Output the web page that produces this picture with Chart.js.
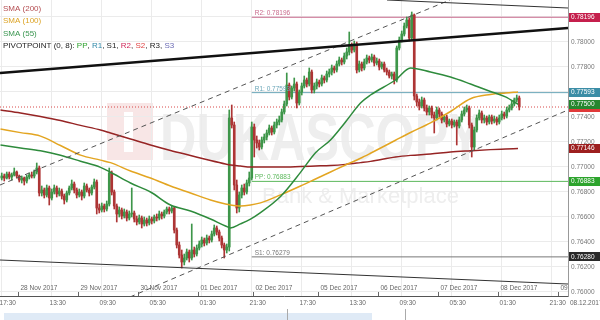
<!DOCTYPE html>
<html>
<head>
<style>
  body { margin: 0; background: #fff; }
  #wrap { width: 600px; height: 320px; }
</style>
</head>
<body>
<div id="wrap"><canvas id="chart" width="600" height="320"></canvas></div>
<script src="https://cdn.jsdelivr.net/npm/chart.js"></script>
<script>
// hourly candles; x = trading hour index, 0 = 28 Nov 2017 00:00 (weekend removed)
const firstHour = -7;

const opens = [
  0.76910,0.76926,0.76910,0.76942,0.76918,0.76934,0.76958,
  0.76926,0.76894,0.76910,0.76886,0.76918,0.76934,0.76926,0.76958,
  0.76990,0.76790,0.76814,0.76774,0.76830,0.76750,0.76798,0.76830,0.76782,
  0.76806,0.76766,0.76734,0.76790,0.76830,0.76862,0.76814,0.76774,0.76798,0.76766,0.76846,0.76814,0.76790,0.76838,
  0.76878,0.76670,0.76654,0.76686,0.76662,0.76702,0.76950,0.76798,0.76686,
  0.76622,0.76654,0.76606,0.76638,0.76590,0.76622,0.76630,0.76582,0.76558,0.76590,0.76542,0.76574,0.76550,0.76582,0.76566,0.76598,
  0.76590,0.76622,0.76606,0.76638,0.76662,0.76646,0.76670,0.76494,0.76374,0.76294,0.76238,0.76270,0.76318,0.76270,0.76334,
  0.76302,0.76350,0.76382,0.76414,0.76390,0.76430,0.76414,0.76462,0.76510,0.76478,0.76430,0.76374,0.76334,
  0.76358,0.77390,0.77334,0.76854,0.76670,0.76774,0.76830,0.76798,0.76870,0.76910,0.77318,
  0.77214,0.77190,0.77158,0.77214,0.77238,0.77270,0.77310,0.77278,0.77334,0.77358,0.77374,0.77438,0.77502,0.77654,0.77558,0.77630,0.77662,
  0.77510,0.77598,0.77646,0.77694,0.77662,0.77758,0.77614,0.77646,0.77678,0.77662,0.77710,0.77694,0.77742,0.77758,0.77790,0.77774,0.77822,0.77854,0.77838,
  0.77886,0.77918,0.77974,0.77934,0.77982,0.77774,0.77822,0.77790,0.77838,0.77870,0.77854,0.77878,0.77830,0.77846,0.77798,0.77822,0.77774,0.77758,0.77726,0.77742,
  0.77694,0.77950,0.78014,0.78062,0.78126,0.78174,0.78030,0.78214,0.77566,0.77518,0.77486,0.77534,0.77470,0.77438,0.77470,0.77414,0.77390,0.77454,
  0.77422,0.77374,0.77398,0.77342,0.77366,0.77334,0.77358,0.77326,0.77374,0.77422,0.77454,0.77470,0.77334,0.77158,0.77294,0.77390,0.77430,
  0.77374,0.77390,0.77358,0.77398,0.77366,0.77382,0.77358,0.77390,0.77422,0.77406,0.77454,0.77470,0.77502,0.77534,0.77550
];
const highs = [
  0.76950,0.76942,0.76958,0.76958,0.76950,0.76990,0.76966,
  0.76934,0.76926,0.76918,0.76934,0.76950,0.76958,0.76974,0.77030,
  0.77006,0.76846,0.76830,0.76854,0.76846,0.76822,0.76854,0.76846,0.76830,
  0.76822,0.76782,0.76806,0.76846,0.76894,0.76878,0.76830,0.76822,0.76814,0.76870,0.76862,0.76830,0.76854,0.76902,
  0.76894,0.76702,0.76710,0.76702,0.76726,0.76990,0.76966,0.76814,0.76702,
  0.76678,0.76670,0.76662,0.76654,0.76646,0.76830,0.76646,0.76606,0.76614,0.76606,0.76598,0.76590,0.76606,0.76598,0.76614,0.76622,
  0.76646,0.76638,0.76654,0.76678,0.76678,0.76686,0.76678,0.76510,0.76398,0.76334,0.76302,0.76342,0.76334,0.76542,0.76358,
  0.76374,0.76406,0.76438,0.76430,0.76454,0.76446,0.76486,0.76534,0.76526,0.76494,0.76446,0.76390,0.76382,
  0.77454,0.77494,0.77358,0.76894,0.76798,0.76854,0.76862,0.76894,0.76958,0.77358,0.77342,
  0.77246,0.77214,0.77238,0.77262,0.77294,0.77334,0.77326,0.77358,0.77382,0.77406,0.77462,0.77526,0.77750,0.77670,0.77646,0.77710,0.77678,
  0.77614,0.77670,0.77726,0.77710,0.77790,0.77774,0.77670,0.77702,0.77694,0.77734,0.77726,0.77766,0.77782,0.77814,0.77806,0.77846,0.77878,0.77870,0.77910,
  0.77950,0.78078,0.77990,0.78006,0.77998,0.77846,0.77838,0.77862,0.77894,0.77886,0.77902,0.77894,0.77870,0.77862,0.77838,0.77838,0.77790,0.77774,0.77758,0.77758,
  0.77966,0.78038,0.78086,0.78150,0.78198,0.78190,0.78238,0.78222,0.77582,0.77542,0.77558,0.77550,0.77494,0.77486,0.77486,0.77438,0.77478,0.77470,
  0.77438,0.77414,0.77414,0.77382,0.77382,0.77374,0.77374,0.77398,0.77446,0.77478,0.77494,0.77486,0.77350,0.77318,0.77414,0.77454,0.77446,
  0.77414,0.77406,0.77414,0.77414,0.77406,0.77398,0.77414,0.77446,0.77438,0.77478,0.77494,0.77526,0.77550,0.77574,0.77566
];
const lows = [
  0.76894,0.76886,0.76902,0.76902,0.76894,0.76926,0.76910,
  0.76878,0.76870,0.76854,0.76870,0.76902,0.76910,0.76910,0.76942,
  0.76766,0.76766,0.76750,0.76758,0.76694,0.76734,0.76782,0.76758,0.76766,
  0.76742,0.76702,0.76718,0.76774,0.76814,0.76790,0.76750,0.76758,0.76734,0.76750,0.76798,0.76766,0.76774,0.76822,
  0.76622,0.76630,0.76638,0.76638,0.76646,0.76686,0.76774,0.76662,0.76558,
  0.76598,0.76582,0.76590,0.76566,0.76574,0.76598,0.76558,0.76534,0.76542,0.76510,0.76526,0.76526,0.76534,0.76542,0.76550,0.76566,
  0.76574,0.76582,0.76590,0.76622,0.76622,0.76630,0.76470,0.76350,0.76270,0.76190,0.76214,0.76254,0.76238,0.76254,0.76278,
  0.76286,0.76334,0.76358,0.76366,0.76374,0.76390,0.76398,0.76446,0.76454,0.76406,0.76350,0.76270,0.76310,
  0.76326,0.77310,0.76814,0.76630,0.76638,0.76750,0.76774,0.76782,0.76846,0.76894,0.77078,
  0.77150,0.77134,0.77142,0.77190,0.77214,0.77254,0.77254,0.77262,0.77310,0.77334,0.77358,0.77422,0.77486,0.77534,0.77542,0.77606,0.77470,
  0.77494,0.77574,0.77630,0.77638,0.77646,0.77590,0.77590,0.77622,0.77638,0.77646,0.77670,0.77678,0.77718,0.77734,0.77750,0.77758,0.77806,0.77814,0.77822,
  0.77862,0.77894,0.77910,0.77918,0.77750,0.77758,0.77766,0.77774,0.77822,0.77830,0.77838,0.77806,0.77814,0.77774,0.77782,0.77758,0.77734,0.77710,0.77702,0.77662,
  0.77678,0.77934,0.77998,0.78046,0.78110,0.78006,0.78014,0.77534,0.77486,0.77454,0.77470,0.77446,0.77414,0.77414,0.77390,0.77270,0.77374,0.77398,
  0.77350,0.77358,0.77318,0.77326,0.77310,0.77318,0.77174,0.77310,0.77358,0.77406,0.77438,0.77310,0.77078,0.77134,0.77278,0.77374,0.77350,
  0.77350,0.77334,0.77342,0.77342,0.77350,0.77334,0.77342,0.77374,0.77382,0.77390,0.77438,0.77454,0.77486,0.77518,0.77454
];
const closes = [
  0.76926,0.76910,0.76942,0.76918,0.76934,0.76958,0.76926,
  0.76894,0.76910,0.76886,0.76918,0.76934,0.76926,0.76958,0.76990,
  0.76790,0.76814,0.76774,0.76830,0.76750,0.76798,0.76830,0.76782,0.76806,
  0.76766,0.76734,0.76790,0.76830,0.76862,0.76814,0.76774,0.76798,0.76766,0.76846,0.76814,0.76790,0.76838,0.76878,
  0.76670,0.76654,0.76686,0.76662,0.76702,0.76950,0.76798,0.76686,0.76622,
  0.76654,0.76606,0.76638,0.76590,0.76622,0.76630,0.76582,0.76558,0.76590,0.76542,0.76574,0.76550,0.76582,0.76566,0.76598,0.76590,
  0.76622,0.76606,0.76638,0.76662,0.76646,0.76670,0.76494,0.76374,0.76294,0.76238,0.76270,0.76318,0.76270,0.76334,0.76302,
  0.76350,0.76382,0.76414,0.76390,0.76430,0.76414,0.76462,0.76510,0.76478,0.76430,0.76374,0.76334,0.76358,
  0.77390,0.77334,0.76854,0.76670,0.76774,0.76830,0.76798,0.76870,0.76910,0.77318,0.77214,
  0.77190,0.77158,0.77214,0.77238,0.77270,0.77310,0.77278,0.77334,0.77358,0.77374,0.77438,0.77502,0.77654,0.77558,0.77630,0.77662,0.77510,
  0.77598,0.77646,0.77694,0.77662,0.77758,0.77614,0.77646,0.77678,0.77662,0.77710,0.77694,0.77742,0.77758,0.77790,0.77774,0.77822,0.77854,0.77838,0.77886,
  0.77918,0.77974,0.77934,0.77982,0.77774,0.77822,0.77790,0.77838,0.77870,0.77854,0.77878,0.77830,0.77846,0.77798,0.77822,0.77774,0.77758,0.77726,0.77742,0.77694,
  0.77950,0.78014,0.78062,0.78126,0.78174,0.78030,0.78214,0.77566,0.77518,0.77486,0.77534,0.77470,0.77438,0.77470,0.77414,0.77390,0.77454,0.77422,
  0.77374,0.77398,0.77342,0.77366,0.77334,0.77358,0.77326,0.77374,0.77422,0.77454,0.77470,0.77334,0.77158,0.77294,0.77390,0.77430,0.77374,
  0.77390,0.77358,0.77398,0.77366,0.77382,0.77358,0.77390,0.77422,0.77406,0.77454,0.77470,0.77502,0.77534,0.77550,0.77478
];

// moving averages at these hours
const smaHours = [-7,1,9,17,25,33,37,45,53,61,69,77,83,85,89,93,97,105,113,119,125,131,137,141,151,157,165,173,181,189,195,200];
const sma200 = [0.77454,0.77430,0.77402,0.77370,0.77331,0.77294,0.77270,0.77222,0.77174,0.77130,0.77090,0.77050,0.77022,0.77014,0.77006,0.76998,0.76998,0.76998,0.77002,0.77006,0.77010,0.77019,0.77033,0.77043,0.77078,0.77091,0.77102,0.77118,0.77128,0.77137,0.77142,0.77146];
const sma100 = [0.77302,0.77273,0.77245,0.77170,0.77093,0.77053,0.77033,0.76966,0.76910,0.76846,0.76790,0.76734,0.76702,0.76694,0.76686,0.76694,0.76711,0.76775,0.76846,0.76902,0.76958,0.77014,0.77068,0.77108,0.77212,0.77274,0.77351,0.77442,0.77544,0.77578,0.77590,0.77598];
const sma55 = [0.77174,0.77150,0.77128,0.77092,0.77044,0.76995,0.76956,0.76870,0.76798,0.76694,0.76646,0.76582,0.76526,0.76511,0.76543,0.76581,0.76633,0.76762,0.76955,0.77112,0.77214,0.77358,0.77510,0.77574,0.77694,0.77790,0.77758,0.77718,0.77662,0.77602,0.77559,0.77500];

// pivot points
const pivotStart = 93.5;
const pivotNames = ['R2', 'R1', 'PP', 'S1'];
const pivotValues = [0.78196, 0.77593, 0.76883, 0.76279];
const pivotColors = ['#c86a8c', '#6aa6b8', '#5cb85c', '#777777'];

// drawn trend lines: [hour, price] end points
const trendThick = [[-7.2, 0.77750], [220, 0.78110]];
const trendTop = [[147.6, 0.78334], [220, 0.78270]];
const trendBottom = [[-7.2, 0.76254], [220, 0.76062]];
const channelUpper = [[-7.2, 0.76854], [172.8, 0.78334]];
const channelLower = [[44.8, 0.75958], [220, 0.77454]];
const lastPrice = 0.77478;

// axis
const priceTicks = [0.760,0.762,0.764,0.766,0.768,0.770,0.772,0.774,0.776,0.778,0.780,0.782];
const timeTickHours = [-6.5,13.5,33.5,53.5,73.5,93.5,113.5,133.5,153.5,173.5,193.5,213.5];
const timeTickLabels = ['17:30','13:30','09:30','05:30','01:30','21:30','17:30','13:30','09:30','05:30','01:30','21:30'];
const dateHours = [0,24,48,72,94,120,144,168,192,216];
const dateLabels = ['28 Nov 2017','29 Nov 2017','30 Nov 2017','01 Dec 2017','02 Dec 2017','05 Dec 2017','06 Dec 2017','07 Dec 2017','08 Dec 2017','09 Dec 2017'];

// price boxes on the right axis (drawn in this order)
const markerValues = [0.78196, 0.77593, 0.77478, 0.77500, 0.77146, 0.76883, 0.76280];
const markerColors = ['#c51f4c', '#3b8da6', '#e03a3a', '#25862e', '#9d1f1f', '#2da42d', '#2a2a2a'];

const upColor = '#3e964a';
const downColor = '#ad3535';

const candleColor = (c) => closes[c.dataIndex] >= opens[c.dataIndex] ? upColor : downColor;
const seg = (pts) => pts.map(p => ({ x: p[0], y: p[1] }));
const smaData = (vals) => smaHours.map((h, i) => ({ x: h, y: vals[i] }));

const datasets = [
  { type: 'line', data: seg(trendThick), borderColor: '#111', borderWidth: 2.5, pointRadius: 0, order: 1 },
  { type: 'line', data: seg(trendTop), borderColor: '#333', borderWidth: 1, pointRadius: 0, order: 1 },
  { type: 'line', data: seg(trendBottom), borderColor: '#333', borderWidth: 1, pointRadius: 0, order: 1 },
  { type: 'line', data: seg(channelUpper), borderColor: '#555', borderWidth: 1, borderDash: [5, 4], pointRadius: 0, order: 1 },
  { type: 'line', data: seg(channelLower), borderColor: '#555', borderWidth: 1, borderDash: [5, 4], pointRadius: 0, order: 1 },
  { type: 'line', data: smaData(sma55), borderColor: '#2e8b3c', borderWidth: 1.5, pointRadius: 0, cubicInterpolationMode: 'monotone', order: 2 },
  { type: 'line', data: smaData(sma100), borderColor: '#e3a521', borderWidth: 1.5, pointRadius: 0, cubicInterpolationMode: 'monotone', order: 2 },
  { type: 'line', data: smaData(sma200), borderColor: '#962424', borderWidth: 1.5, pointRadius: 0, cubicInterpolationMode: 'monotone', order: 2 },
  { type: 'bar', data: closes.map((c, i) => ({ x: firstHour + i + 0.5, y: [opens[i], c] })),
    backgroundColor: candleColor, barThickness: 2, minBarLength: 1, order: 4 },
  { type: 'bar', data: closes.map((c, i) => ({ x: firstHour + i + 0.5, y: [lows[i], highs[i]] })),
    backgroundColor: candleColor, barThickness: 1, order: 5 },
  { type: 'line', data: [{ x: -7.2, y: lastPrice }, { x: 220, y: lastPrice }], borderColor: '#d84848', borderWidth: 1, borderDash: [1, 2], pointRadius: 0, order: 6 }
];
pivotValues.forEach((v, i) => {
  datasets.push({ type: 'line', data: [{ x: pivotStart, y: v }, { x: 220, y: v }], borderColor: pivotColors[i], borderWidth: 1, pointRadius: 0, order: 7 });
});

const legendLines = [
  [['SMA (200)', '#b44c50']],
  [['SMA (100)', '#dca324']],
  [['SMA (55)', '#3a9650']],
  [['PIVOTPOINT (0, 8): ', '#222'], ['PP', '#2ca02c'], [', ', '#222'], ['R1', '#2f88a8'], [', S1, ', '#222'],
   ['R2', '#d0285a'], [', ', '#222'], ['S2', '#e04545'], [', R3, ', '#222'], ['S3', '#6a6ab4']]
];

const decor = {
  id: 'decor',
  beforeDraw(chart) {
    const ctx = chart.ctx;
    ctx.save();
    ctx.fillStyle = '#fff';
    ctx.fillRect(0, 0, chart.width, chart.height);
    // watermark
    ctx.fillStyle = '#f8e6e6';
    ctx.fillRect(107, 103, 46, 57);
    ctx.fillStyle = '#fff';
    ctx.fillRect(124, 112, 9, 40);
    ctx.fillStyle = '#eeeeee';
    ctx.textAlign = 'left';
    ctx.textBaseline = 'alphabetic';
    ctx.font = 'bold 66px Arial';
    ctx.fillText('DUKASCOPY', 160, 160, 322);
    ctx.font = '22px Arial';
    ctx.fillText('Bank & Marketplace', 262, 203);
    // navigator strip
    ctx.fillStyle = '#dfeaf6';
    ctx.fillRect(4, 313, 368, 7);
    ctx.fillStyle = '#aaa';
    ctx.fillRect(287, 309, 1, 11);
    ctx.fillRect(405, 309, 1, 11);
    ctx.restore();
  },
  beforeDatasetsDraw(chart) {
    const { ctx, chartArea: a, scales } = chart;
    ctx.save();
    ctx.beginPath();
    ctx.rect(a.left, a.top, a.right - a.left, a.bottom - a.top);
    ctx.clip();
    ctx.font = '6.5px Arial';
    ctx.textBaseline = 'alphabetic';
    ctx.textAlign = 'left';
    dateHours.forEach((h, i) => {
      const x = Math.round(scales.x.getPixelForValue(h)) + 0.5;
      ctx.strokeStyle = '#666';
      ctx.lineWidth = 1;
      ctx.beginPath();
      ctx.moveTo(x, a.bottom - 4);
      ctx.lineTo(x, a.bottom);
      ctx.stroke();
      ctx.fillStyle = '#666';
      ctx.fillText(dateLabels[i], x + 2, a.bottom - 6);
    });
    ctx.restore();
  },
  afterDatasetsDraw(chart) {
    const { ctx, scales } = chart;
    ctx.save();
    ctx.font = '6.5px Arial';
    ctx.textAlign = 'left';
    ctx.textBaseline = 'alphabetic';
    const x0 = scales.x.getPixelForValue(pivotStart) + 3;
    pivotValues.forEach((v, i) => {
      ctx.fillStyle = pivotColors[i];
      ctx.fillText(pivotNames[i] + ': ' + v.toFixed(5), x0, scales.y.getPixelForValue(v) - 2);
    });
    ctx.restore();
  },
  afterDraw(chart) {
    const { ctx, chartArea: a, scales } = chart;
    ctx.save();
    ctx.textAlign = 'left';
    // right axis boxes
    ctx.font = '6.5px Arial';
    ctx.textBaseline = 'middle';
    markerValues.forEach((v, i) => {
      const y = scales.y.getPixelForValue(v);
      ctx.fillStyle = markerColors[i];
      ctx.fillRect(a.right + 1, Math.round(y - 4.5), 32, 9);
      ctx.fillStyle = '#fff';
      ctx.fillText(v.toFixed(5), a.right + 3, y);
    });
    ctx.fillStyle = '#666';
    ctx.fillText('08.12.2017', a.right + 2, 303);
    // legend
    ctx.font = '8px Arial';
    legendLines.forEach((line, r) => {
      let x = 3;
      const y = 8.5 + r * 12.5;
      line.forEach(([t, c]) => {
        ctx.fillStyle = c;
        ctx.fillText(t, x, y);
        x += ctx.measureText(t).width;
      });
    });
    ctx.restore();
  }
};

new Chart(document.getElementById('chart'), {
  type: 'bar',
  data: { datasets },
  plugins: [decor],
  options: {
    responsive: false,
    animation: false,
    layout: { padding: 0 },
    plugins: { legend: { display: false }, tooltip: { enabled: false } },
    datasets: { bar: { grouped: false, borderWidth: 0 } },
    scales: {
      x: {
        type: 'linear', min: -7.2, max: 220, offset: false,
        grid: { color: '#ebebeb', drawTicks: false, offset: false },
        border: { color: '#555' },
        afterBuildTicks: (s) => { s.ticks = timeTickHours.map(v => ({ value: v })); },
        afterFit: (s) => { s.height = 24; s.paddingLeft = 0; s.paddingRight = 0; },
        ticks: {
          autoSkip: false, maxRotation: 0, padding: 3, labelOffset: 6,
          color: '#666', font: { size: 6.5, family: 'Arial' },
          callback: (v, i) => timeTickLabels[i]
        }
      },
      y: {
        position: 'right', min: 0.75966, max: 0.78334, beginAtZero: false,
        grid: { color: '#ebebeb', drawTicks: false },
        border: { color: '#999' },
        afterBuildTicks: (s) => { s.ticks = priceTicks.map(v => ({ value: v })); },
        afterFit: (s) => { s.width = 32; s.paddingTop = 0; s.paddingBottom = 0; },
        ticks: {
          padding: 3, color: '#777', font: { size: 6.5, family: 'Arial' },
          callback: (v) => v.toFixed(5)
        }
      }
    }
  }
});
</script>
</body>
</html>
